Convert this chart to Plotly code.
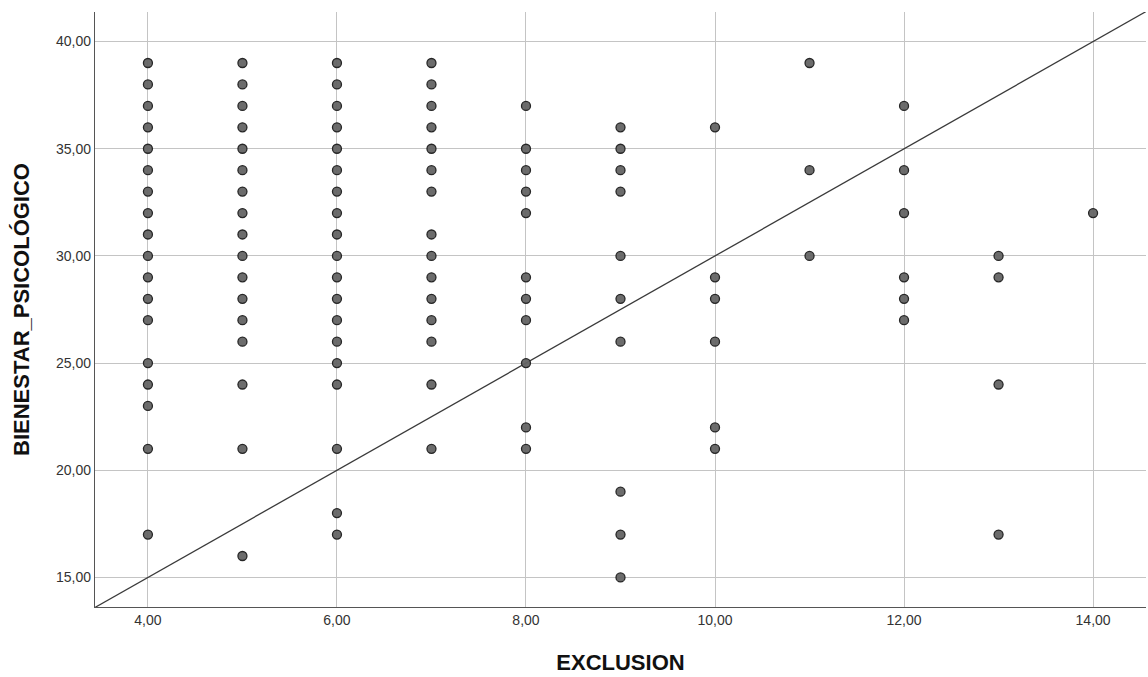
import plotly.graph_objects as go

# Data: EXCLUSION (x) and BIENESTAR_PSICOLÓGICO (y) observed pairs, per column
col_x4 = [39, 38, 37, 36, 35, 34, 33, 32, 31, 30, 29, 28, 27, 25, 24, 23, 21, 17]
col_x5 = [39, 38, 37, 36, 35, 34, 33, 32, 31, 30, 29, 28, 27, 26, 24, 21, 16]
col_x6 = [39, 38, 37, 36, 35, 34, 33, 32, 31, 30, 29, 28, 27, 26, 25, 24, 21, 18, 17]
col_x7 = [39, 38, 37, 36, 35, 34, 33, 31, 30, 29, 28, 27, 26, 24, 21]
col_x8 = [37, 35, 34, 33, 32, 29, 28, 27, 25, 22, 21]
col_x9 = [36, 35, 34, 33, 30, 28, 26, 19, 17, 15]
col_x10 = [36, 29, 28, 26, 22, 21]
col_x11 = [39, 34, 30]
col_x12 = [37, 34, 32, 29, 28, 27]
col_x13 = [30, 29, 24, 17]
col_x14 = [32]

exclusion_levels = [4, 5, 6, 7, 8, 9, 10, 11, 12, 13, 14]
bienestar_cols = [col_x4, col_x5, col_x6, col_x7, col_x8, col_x9,
                  col_x10, col_x11, col_x12, col_x13, col_x14]

x_tick_vals = [4, 6, 8, 10, 12, 14]
y_tick_vals = [15, 20, 25, 30, 35, 40]

# Reference line y = intercept + slope * x
line_intercept = 5.0
line_slope = 2.5

x_range = [3.44, 14.56]
y_range = [13.62, 41.38]

xs, ys = [], []
for lvl, col in zip(exclusion_levels, bienestar_cols):
    for v in col:
        xs.append(lvl)
        ys.append(v)

line_x = x_range
line_y = [line_intercept + line_slope * v for v in line_x]

fig = go.Figure()
fig.add_trace(go.Scatter(
    x=line_x, y=line_y, mode="lines",
    line=dict(color="#3a3a3a", width=1.3),
    hoverinfo="skip", showlegend=False,
))
fig.add_trace(go.Scatter(
    x=xs, y=ys, mode="markers",
    marker=dict(size=9, color="rgba(100,100,100,0.95)",
                line=dict(color="#262626", width=1.3)),
    showlegend=False,
))

fig.update_layout(
    width=1148, height=677,
    margin=dict(l=95, r=2, t=12, b=70),
    paper_bgcolor="white", plot_bgcolor="white",
    separators=",.",
    font=dict(family="Arial, Liberation Sans, sans-serif", color="#222"),
    xaxis=dict(
        range=x_range, tickvals=x_tick_vals, tickformat=".2f",
        showgrid=True, gridcolor="#c4c4c4", gridwidth=1,
        zeroline=False, showline=True, linecolor="#555", linewidth=1.3,
        ticks="",
        tickfont=dict(size=14, color="#333"),
        title=dict(text="<b>EXCLUSION</b>", font=dict(size=22, color="#111"), standoff=27),
        automargin=False,
    ),
    yaxis=dict(
        range=y_range, tickvals=y_tick_vals, tickformat=".2f",
        showgrid=True, gridcolor="#c4c4c4", gridwidth=1,
        zeroline=False, showline=True, linecolor="#555", linewidth=1.3,
        ticks="",
        tickfont=dict(size=14, color="#333"),
        title=dict(text="<b>BIENESTAR_PSICOLÓGICO</b>", font=dict(size=22, color="#111"), standoff=20),
        automargin=False,
    ),
)

fig.write_html("out.html")
